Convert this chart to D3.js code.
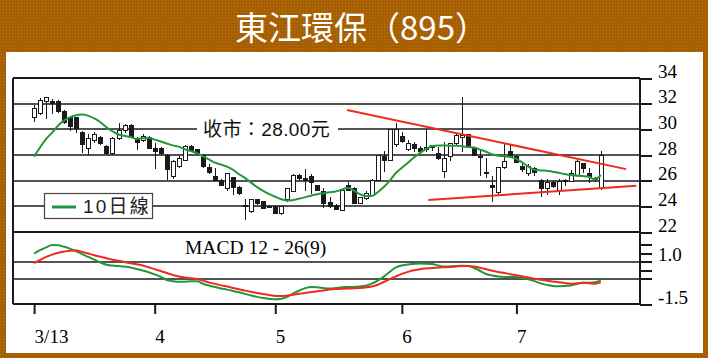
<!DOCTYPE html>
<html><head><meta charset="utf-8">
<script src="https://cdn.jsdelivr.net/npm/d3@7/dist/d3.min.js"></script>
<style>html,body{margin:0;padding:0;background:#fff;}svg{display:block;}</style>
</head><body>
<script>
// ---------- DATA ----------
const title = "東江環保（895）";
const monthLabels = ["3/13", "4", "5", "6", "7"];
const monthTickIdx = [0, 20, 40, 61, 80];
const priceTicks = [22, 24, 26, 28, 30, 32, 34];
const macdTicks = [2, 1.5, 1, 0.5, 0, -1.5];
const macdTickLabels = ["", "", "1.0", "", "", "-1.5"];
const closeLabel = "收市：28.00元";
const legendLabel = "10日線";
const macdLabel = "MACD 12 - 26(9)";

const open  = [30.9,31.25,32.15,32.15,32.2,31.4,30.9,30.9,29.75,28.5, 29.1,29.4,28.7,28.1,29.3,29.9,30.3,29.3,29.15,29.4,
               28.5,28.5,28.0,26.3,27.1,27.6,28.65,28.4,28.0,27.0, 26.3,26.0,25.4,26.25,25.5,23.95,23.6,24.5,24.35,24.0,
               23.97,23.45,24.5,25.14,26.44,26.2,26.36,25.66,25.14,24.26, 24.1,23.7,25.6,25.4,24.24,24.6,24.88,26.05,27.9,27.6,
               28.78,29.43,28.45,28.78,28.52,28.4,28.55,28.13,26.7,27.87, 28.9,29.4,29.56,28.5,27.9,26.6,25.6,25.1,27.0,28.3,
               27.87,27.1,26.57,26.96,26.0,25.4,25.85,25.27,25.95,25.92, 26.44,27.35,26.57,26.2,25.4];
const high  = [31.9,32.45,32.55,32.4,32.3,31.5,31.0,31.0,29.9,29.6, 29.8,29.5,28.8,29.4,30.5,30.4,30.4,29.4,29.6,29.5,
               28.9,28.6,28.1,27.6,27.9,28.8,28.8,28.5,28.1,27.3, 27.0,26.1,26.6,26.3,25.6,24.6,24.6,24.6,24.45,24.1,
               24.1,24.0,25.4,26.5,26.5,26.9,26.5,25.7,25.4,24.7, 24.2,25.3,25.9,25.5,24.7,25.2,26.1,28.0,28.3,30.0,
               30.5,29.8,29.2,29.0,28.7,29.95,28.8,28.6,29.04,28.9, 29.6,32.5,29.6,28.6,28.4,27.8,26.4,27.1,28.9,28.8,
               28.0,27.4,27.3,27.1,26.1,26.1,25.95,26.15,26.15,26.8, 27.6,27.4,27.0,26.25,28.34];
const low   = [30.6,31.1,30.8,31.2,31.3,30.4,29.9,29.7,28.15,28.0, 28.9,28.8,28.0,28.0,29.2,29.7,29.3,28.4,29.0,28.5,
               26.9,28.0,26.05,26.1,27.0,27.5,28.3,28.0,27.0,26.5, 26.0,25.6,25.2,24.9,24.9,22.9,23.5,24.1,23.8,23.9,
               23.4,23.3,24.3,25.1,26.0,25.2,25.0,25.2,23.9,23.9, 23.7,23.6,25.2,24.2,24.2,24.5,24.8,26.0,26.7,27.5,
               28.6,28.9,28.3,28.2,28.1,28.2,28.3,27.6,26.2,27.5, 28.8,28.2,28.6,27.9,26.4,26.2,24.3,24.9,26.9,27.8,
               27.4,26.7,26.4,26.4,24.7,24.9,25.4,24.9,25.6,25.9, 26.3,26.6,25.8,25.9,25.3];
const close = [31.65,32.25,32.45,32.05,31.4,30.5,30.2,30.1,28.8,29.25, 29.6,28.9,28.1,29.3,29.9,30.3,29.4,29.0,29.45,28.5,
               28.3,28.1,26.85,27.5,27.75,28.7,28.35,28.15,27.1,26.6, 26.05,25.66,26.55,25.5,25.0,24.1,24.5,24.25,23.85,23.95,
               23.45,23.97,25.4,26.44,26.18,26.0,25.85,25.27,24.24,23.97, 23.77,25.27,25.27,24.24,24.65,25.0,26.05,28.0,27.6,29.95,
               29.95,29.04,28.9,28.47,28.26,28.55,28.75,27.74,27.74,28.9, 29.5,29.5,28.65,28.0,27.85,26.55,25.5,27.0,27.5,27.9,
               27.45,26.85,27.1,26.62,25.4,25.85,25.53,25.92,26.0,26.57, 27.48,26.96,26.3,26.15,28.0];
const ma10  = [27.87,28.6,29.25,29.75,30.3,30.7,30.95,31.1,31.15,31.05, 30.85,30.55,30.15,29.85,29.6,29.5,29.4,29.25,29.3,29.35,
               29.2,29.05,28.9,28.75,28.65,28.45,28.3,28.15,27.9,27.65, 27.4,27.25,27.1,26.85,26.5,26.2,25.85,25.5,25.2,24.95,
               24.75,24.55,24.45,24.5,24.6,24.72,24.85,24.95,25.02,25.1, 25.15,25.3,25.45,25.25,24.95,24.8,24.8,25.1,25.5,26.0,
               26.6,27.0,27.4,27.8,28.15,28.45,28.7,28.75,28.75,28.72, 28.72,28.68,28.62,28.58,28.42,28.25,28.05,27.95,27.9,27.85,
               27.7,27.4,27.1,26.85,26.8,26.78,26.7,26.62,26.52,26.44, 26.4,26.36,26.3,26.1,26.44];
const macdDif = [1.48,1.68,1.85,1.98,1.97,1.88,1.76,1.62,1.45,1.28, 1.12,0.95,0.82,0.77,0.74,0.71,0.66,0.57,0.48,0.38,
               0.25,0.1,-0.08,-0.15,-0.19,-0.18,-0.15,-0.16,-0.3,-0.41, -0.5,-0.58,-0.65,-0.73,-0.81,-0.9,-1.0,-1.08,-1.15,-1.19,
               -1.22,-1.19,-1.08,-0.87,-0.7,-0.56,-0.5,-0.51,-0.56,-0.59, -0.56,-0.51,-0.5,-0.49,-0.46,-0.42,-0.3,-0.12,0.12,0.4,
               0.66,0.78,0.84,0.87,0.89,0.88,0.86,0.78,0.71,0.73, 0.75,0.76,0.74,0.63,0.45,0.27,0.18,0.12,0.1,0.1,
               0.1,0.04,-0.04,-0.15,-0.28,-0.37,-0.43,-0.45,-0.43,-0.4, -0.32,-0.25,-0.24,-0.22,-0.1];
const macdSignal = [0.92,1.1,1.28,1.42,1.53,1.6,1.65,1.66,1.58,1.48, 1.38,1.29,1.2,1.12,1.05,0.98,0.91,0.85,0.78,0.67,
               0.56,0.45,0.33,0.22,0.12,0.06,0.02,-0.02,-0.12,-0.22, -0.31,-0.4,-0.47,-0.55,-0.63,-0.71,-0.78,-0.85,-0.91,-0.97,
               -1.02,-1.03,-1.0,-0.95,-0.9,-0.85,-0.79,-0.74,-0.7,-0.65, -0.62,-0.6,-0.59,-0.57,-0.55,-0.52,-0.47,-0.36,-0.2,-0.03,
               0.13,0.28,0.4,0.49,0.56,0.6,0.63,0.65,0.67,0.69, 0.72,0.74,0.74,0.71,0.64,0.55,0.46,0.39,0.33,0.26,
               0.2,0.13,0.06,-0.01,-0.07,-0.12,-0.17,-0.21,-0.26,-0.3, -0.28,-0.25,-0.27,-0.3,-0.22];
const trendUpper = [[51.9, 31.5], [98.2, 26.9]];
const trendLower = [[65.4, 24.5], [99.9, 25.6]];

// ---------- DRAW ----------
const W = 708, H = 358;
const svg = d3.select("body").append("svg").attr("width", W).attr("height", H);

// brown dotted frame
const defs = svg.append("defs");
const pat = defs.append("pattern").attr("id", "dots").attr("width", 3).attr("height", 3)
  .attr("patternUnits", "userSpaceOnUse");
pat.append("rect").attr("width", 3).attr("height", 3).attr("fill", "#a65f00");
pat.append("rect").attr("width", 1).attr("height", 1).attr("fill", "#b8741a");
svg.append("rect").attr("width", W).attr("height", H).attr("fill", "url(#dots)");
svg.append("rect").attr("x", 6).attr("y", 52).attr("width", 697).attr("height", 301).attr("fill", "#fff");

svg.append("text").attr("x", 235).attr("y", 40).text(title)
  .attr("font-family", "'Noto Sans CJK TC','Noto Sans CJK SC',sans-serif")
  .attr("font-size", 33).attr("fill", "#fff");

const xL = 13, xR = 640;
const x = d3.scaleLinear().domain([-3.5, 100.5]).range([xL, xR]);
const yP = d3.scaleLinear().domain([22, 34]).range([232, 78]);
const yM = d3.scaleLinear().domain([-1.5, 1.0]).range([304, 261.7]);
const ink = "#1a1a1a";
const serif = "'Liberation Serif','Times New Roman',serif";
const sans = "'Liberation Sans',Arial,'Noto Sans CJK TC',sans-serif";

// grid lines
const grid = svg.append("g");
const ry = v => Math.round(v);
[24, 26, 28, 30, 32].forEach(p => grid.append("line").attr("x1", xL).attr("x2", xR)
  .attr("y1", ry(yP(p))).attr("y2", ry(yP(p))).attr("stroke", ink).attr("stroke-width", 1.7));
[1, 0].forEach(v => grid.append("line").attr("x1", xL).attr("x2", xR)
  .attr("y1", ry(yM(v))).attr("y2", ry(yM(v))).attr("stroke", ink).attr("stroke-width", 1.7));
[yP(34), yP(22), yM(-1.5)].forEach(y => grid.append("line").attr("x1", xL).attr("x2", xR)
  .attr("y1", ry(y)).attr("y2", ry(y)).attr("stroke", ink).attr("stroke-width", 2));
grid.append("line").attr("x1", xL).attr("x2", xL).attr("y1", yP(34)).attr("y2", yM(-1.5))
  .attr("stroke", ink).attr("stroke-width", 2);
grid.append("line").attr("x1", xR).attr("x2", xR).attr("y1", yP(34)).attr("y2", yM(-1.5))
  .attr("stroke", ink).attr("stroke-width", 2);

// right axes
const axP = svg.append("g").attr("transform", `translate(${xR},0)`)
  .call(d3.axisRight(yP).tickValues(priceTicks).tickSize(12).tickFormat(d3.format("d")));
const axM = svg.append("g").attr("transform", `translate(${xR},0)`)
  .call(d3.axisRight(yM).tickValues(macdTicks).tickSize(12).tickFormat((d, i) => macdTickLabels[i]));
[axP, axM].forEach(g => {
  g.select(".domain").remove();
  g.selectAll("line").attr("stroke", ink).attr("stroke-width", 2).attr("shape-rendering", "crispEdges");
  g.selectAll("text").attr("x", 18).attr("dy", "-0.05em").attr("fill", "#000")
    .attr("font-family", serif).attr("font-size", 19);
});

// bottom axis
const axX = svg.append("g").attr("transform", `translate(0,${yM(-1.5)})`)
  .call(d3.axisBottom(x).tickValues(monthTickIdx).tickSize(10).tickFormat((d, i) => monthLabels[i]));
axX.select(".domain").remove();
axX.selectAll("line").attr("stroke", ink).attr("stroke-width", 2);
axX.selectAll("text").attr("y", 39).attr("dy", 0).attr("text-anchor", "start").attr("fill", "#000")
  .attr("font-family", serif).attr("font-size", 19);

// close label
svg.append("rect").attr("x", 197).attr("y", 119).attr("width", 141).attr("height", 20).attr("fill", "#fff");
svg.append("text").attr("x", 203).attr("y", 136).text(closeLabel)
  .attr("font-family", sans).attr("font-size", 19).attr("letter-spacing", 0.4).attr("fill", "#111");

// candles
const bw = 4.2;
const cg = svg.append("g").attr("shape-rendering", "crispEdges");
close.forEach((c, i) => {
  const o = open[i], cx = Math.round(x(i)) + 0.5;
  cg.append("line").attr("x1", cx).attr("x2", cx).attr("y1", yP(high[i])).attr("y2", yP(low[i]))
    .attr("stroke", ink).attr("stroke-width", 1);
  const top = yP(Math.max(o, c)), bot = yP(Math.min(o, c));
  const up = c >= o;
  cg.append("rect").attr("x", cx - bw / 2).attr("y", top).attr("width", bw)
    .attr("height", Math.max(1, bot - top))
    .attr("fill", up ? "#fff" : ink).attr("stroke", ink).attr("stroke-width", 1);
});

// MA10
svg.append("path").datum(ma10).attr("fill", "none").attr("stroke", "#23963a").attr("stroke-width", 2)
  .attr("d", d3.line().x((d, i) => x(i)).y(d => yP(d)).curve(d3.curveMonotoneX));

// trend lines
[trendUpper, trendLower].forEach(t => svg.append("line")
  .attr("x1", x(t[0][0])).attr("y1", yP(t[0][1])).attr("x2", x(t[1][0])).attr("y2", yP(t[1][1]))
  .attr("stroke", "#ee2b1e").attr("stroke-width", 2));

// MACD
svg.append("path").datum(macdDif).attr("fill", "none").attr("stroke", "#23963a").attr("stroke-width", 2)
  .attr("d", d3.line().x((d, i) => x(i)).y(d => yM(d)).curve(d3.curveMonotoneX));
svg.append("path").datum(macdSignal).attr("fill", "none").attr("stroke", "#ee2b1e").attr("stroke-width", 2)
  .attr("d", d3.line().x((d, i) => x(i)).y(d => yM(d)).curve(d3.curveMonotoneX));
svg.append("text").attr("x", 185).attr("y", 254).text(macdLabel)
  .attr("font-family", serif).attr("font-size", 19.5).attr("fill", "#000");

// legend
svg.append("rect").attr("x", 44.5).attr("y", 193.5).attr("width", 108).attr("height", 25)
  .attr("fill", "#fff").attr("stroke", "#444").attr("stroke-width", 1.2);
svg.append("line").attr("x1", 52).attr("x2", 76).attr("y1", 207).attr("y2", 207)
  .attr("stroke", "#23963a").attr("stroke-width", 3);
svg.append("text").attr("x", 83).attr("y", 213).text(legendLabel)
  .attr("font-family", sans).attr("font-size", 19).attr("letter-spacing", 2.2).attr("fill", "#222");
</script>
</body></html>
